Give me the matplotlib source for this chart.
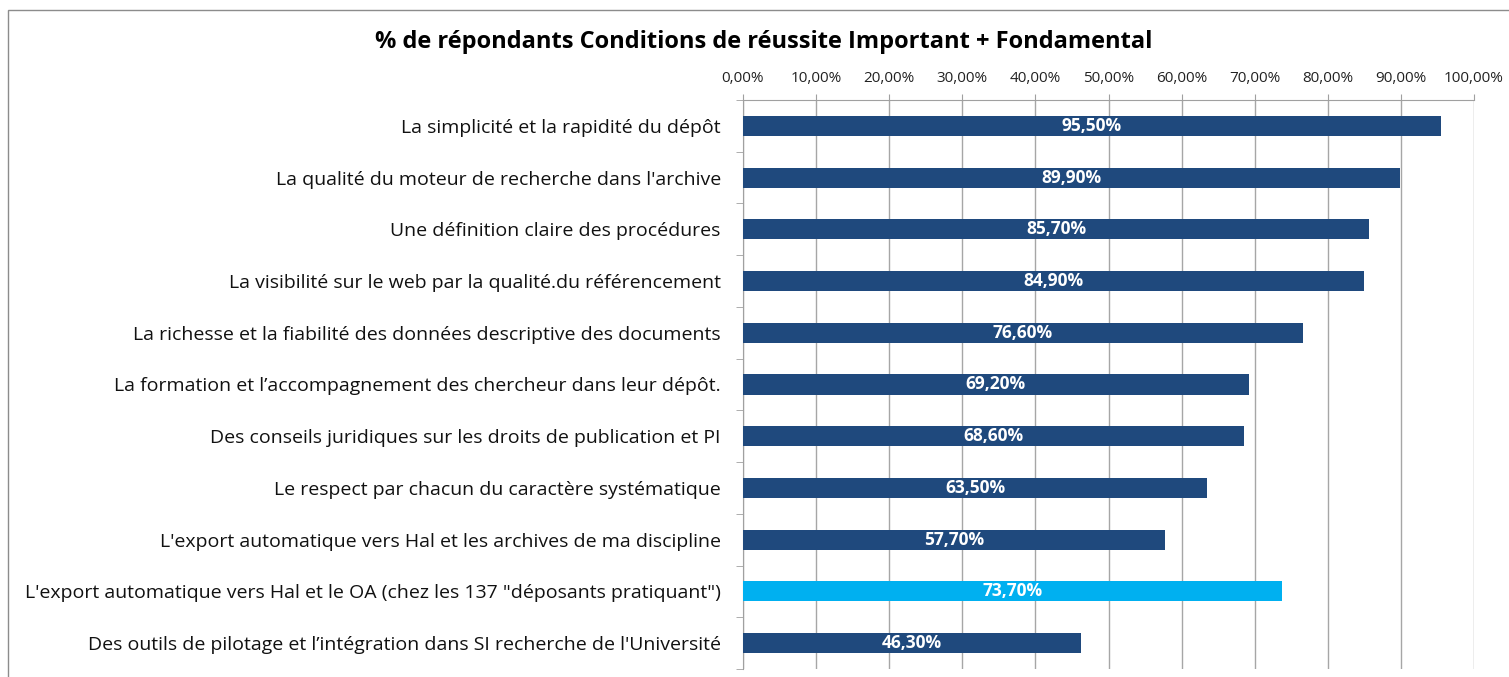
import matplotlib
matplotlib.use("Agg")
import matplotlib.pyplot as plt
from matplotlib.patches import Rectangle
from matplotlib.ticker import FuncFormatter, FixedLocator

categories = [
    "La simplicité et la rapidité du dépôt",
    "La qualité du moteur de recherche dans l'archive",
    "Une définition claire des procédures",
    "La visibilité sur le web par la qualité.du référencement",
    "La richesse et la fiabilité des données descriptive des documents",
    "La formation et l\u2019accompagnement des chercheur dans leur dépôt.",
    "Des conseils juridiques sur les droits de publication et PI",
    "Le respect par chacun du caractère systématique",
    "L'export automatique vers Hal et les archives de ma discipline",
    "L'export automatique vers Hal et le OA (chez les 137 \"déposants pratiquant\")",
    "Des outils de pilotage et l\u2019intégration dans SI recherche de l'Université",
]
values = [95.5, 89.9, 85.7, 84.9, 76.6, 69.2, 68.6, 63.5, 57.7, 73.7, 46.3]
highlight = [False, False, False, False, False, False, False, False, False, True, False]
title = "% de répondants Conditions de réussite Important + Fondamental"

dark = "#1F497D"
light = "#00B0F0"
font = ["Open Sans", "DejaVu Sans"]
plt.rcParams["font.family"] = font

W, H = 1509, 677
fig = plt.figure(figsize=(W / 100, H / 100), dpi=100)
ax = fig.add_axes([743 / W, 1 - 669 / H, (1474 - 743) / W, (669 - 100) / H])

n = len(categories)
ypos = list(range(n))
colors = [light if h else dark for h in highlight]
ax.barh(ypos, values, height=0.39, color=colors, zorder=3)
for y, v in zip(ypos, values):
    ax.text(v / 2, y, f"{v:.2f}%".replace(".", ","), ha="center", va="center",
            color="white", fontweight="bold", fontsize=12.5, zorder=4)

ax.set_xlim(0, 100)
ax.set_ylim(n - 0.5, -0.5)
ax.xaxis.tick_top()
ax.set_xticks(range(0, 101, 10))
ax.xaxis.set_major_formatter(FuncFormatter(lambda x, p: f"{x:.2f}%".replace(".", ",")))
ax.tick_params(axis="x", length=4, color="#A0A0A0", labelsize=11, pad=6, labelcolor="#222222")
ax.grid(axis="x", color="#A6A6A6", linewidth=1, zorder=0)

ax.set_yticks(ypos)
ax.set_yticklabels(categories, fontsize=14, color="#111111")
ax.tick_params(axis="y", which="major", length=0, pad=16)
ax.yaxis.set_minor_locator(FixedLocator([i - 0.5 for i in range(n + 1)]))
ax.tick_params(axis="y", which="minor", length=5, color="#A0A0A0")

for s in ["right", "bottom"]:
    ax.spines[s].set_visible(False)
ax.spines["left"].set_color("#A0A0A0")
ax.spines["top"].set_color("#A0A0A0")

fig.text(764 / W, 1 - 42 / H, title, ha="center", va="center", fontsize=17, fontweight="bold")

fig.patches.append(Rectangle((8 / W, -0.1), 1.2, 1 - 10 / H + 0.1, transform=fig.transFigure,
                             fill=False, edgecolor="#8C8C8C", linewidth=1))

fig.savefig("out.png", dpi=100)
